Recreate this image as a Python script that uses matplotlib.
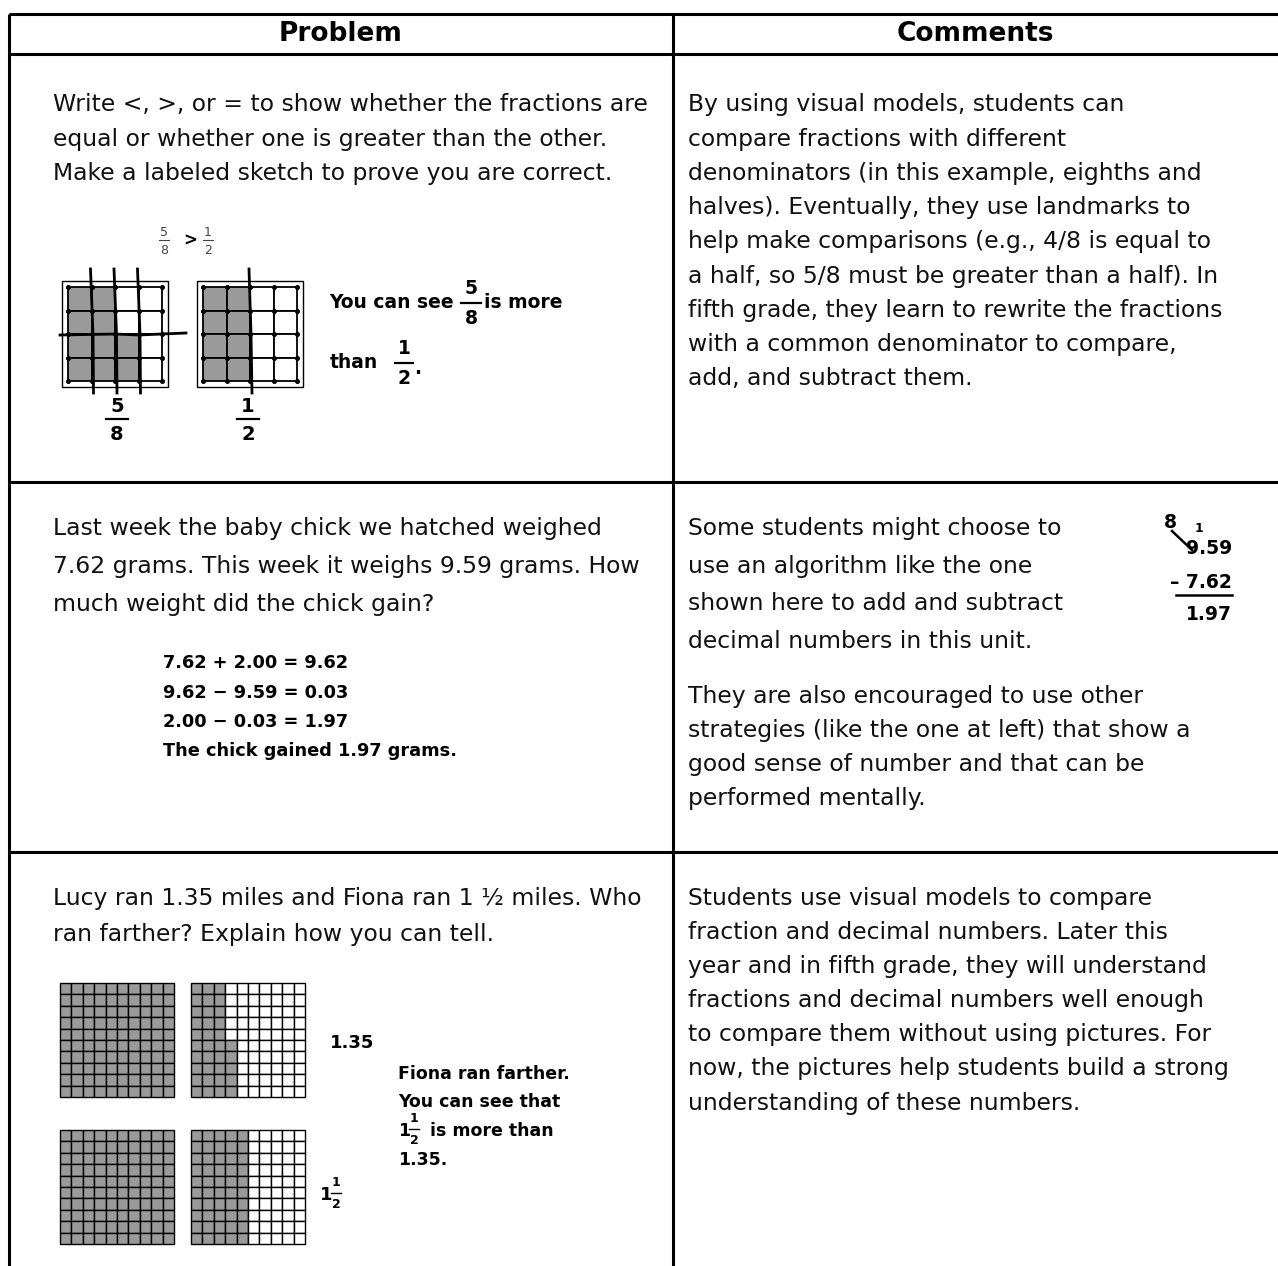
import matplotlib.pyplot as plt
from matplotlib.patches import Rectangle

# ---- table text ----
headers = ["Problem", "Comments"]

problem_1 = ["Write <, >, or = to show whether the fractions are",
             "equal or whether one is greater than the other.",
             "Make a labeled sketch to prove you are correct."]
comment_1 = ["By using visual models, students can",
             "compare fractions with different",
             "denominators (in this example, eighths and",
             "halves). Eventually, they use landmarks to",
             "help make comparisons (e.g., 4/8 is equal to",
             "a half, so 5/8 must be greater than a half). In",
             "fifth grade, they learn to rewrite the fractions",
             "with a common denominator to compare,",
             "add, and subtract them."]

problem_2 = ["Last week the baby chick we hatched weighed",
             "7.62 grams. This week it weighs 9.59 grams. How",
             "much weight did the chick gain?"]
work_2 = ["7.62 + 2.00 = 9.62",
          "9.62 \u2212 9.59 = 0.03",
          "2.00 \u2212 0.03 = 1.97",
          "The chick gained 1.97 grams."]
comment_2a = ["Some students might choose to",
              "use an algorithm like the one",
              "shown here to add and subtract",
              "decimal numbers in this unit."]
comment_2b = ["They are also encouraged to use other",
              "strategies (like the one at left) that show a",
              "good sense of number and that can be",
              "performed mentally."]

problem_3 = ["Lucy ran 1.35 miles and Fiona ran 1 \u00bd miles. Who",
             "ran farther? Explain how you can tell."]
answer_3 = ["Fiona ran farther.", "You can see that", "is more than", "1.35."]
comment_3 = ["Students use visual models to compare",
             "fraction and decimal numbers. Later this",
             "year and in fifth grade, they will understand",
             "fractions and decimal numbers well enough",
             "to compare them without using pictures. For",
             "now, the pictures help students build a strong",
             "understanding of these numbers."]

# ---- values shown in the sketches ----
eighths = (5, 8)        # left 4x4 model
half = (1, 2)           # right 4x4 model
lucy = 135              # hundredths
fiona = 150             # hundredths

W, H = 1278, 1266
fig = plt.figure(figsize=(W / 100, H / 100), dpi=100)
ax = fig.add_axes([0, 0, 1, 1])
ax.set_xlim(0, W)
ax.set_ylim(H, 0)
ax.axis("off")

BODY = dict(fontsize=16.9, family="DejaVu Sans", color="#111111", va="center")
HAND = dict(family="DejaVu Sans", weight="bold", color="black", va="center")

# table lines
x_left, x_mid = 9, 673
y_top, y_head, y_r1, y_r2 = 14, 54, 482, 852
lw = 2.2
for y in [y_top, y_head, y_r1, y_r2]:
    ax.plot([x_left, W], [y, y], color="black", lw=lw, solid_capstyle="butt")
for x in [x_left, x_mid]:
    ax.plot([x, x], [y_top, H], color="black", lw=lw, solid_capstyle="butt")

ax.text((x_left + x_mid) / 2, 34, headers[0], ha="center", va="center",
        fontsize=19, weight="bold", family="DejaVu Sans")
ax.text((x_mid + W) / 2, 34, headers[1], ha="center", va="center",
        fontsize=19, weight="bold", family="DejaVu Sans")


def paragraph(lines, x, y, dy=34.2, **kw):
    style = dict(BODY)
    style.update(kw)
    for i, s in enumerate(lines):
        ax.text(x, y + i * dy, s, ha="left", **style)


def frac(x, y, num, den, size=13, gap=13, bar=18, lw_bar=1.6, **kw):
    style = dict(HAND)
    style.update(kw)
    ax.text(x, y - gap, str(num), ha="center", fontsize=size, **style)
    ax.text(x, y + gap + 2, str(den), ha="center", fontsize=size, **style)
    ax.plot([x - bar / 2, x + bar / 2], [y, y], color=style["color"], lw=lw_bar)


def square_model(x0, y0, size, n, shaded, dots=False, pad=0):
    # shaded cells fill each column from the bottom, column by column
    if pad:
        ax.add_patch(Rectangle((x0 - pad, y0 - pad), size + 2 * pad, size + 2 * pad,
                               fill=False, ec="black", lw=1.0))
    c = size / n
    for col in range(n):
        for row in range(n):
            k = col * n + (n - 1 - row)
            fc = "#9a9a9a" if k < shaded else "white"
            ax.add_patch(Rectangle((x0 + col * c, y0 + row * c), c, c,
                                   fc=fc, ec="black", lw=1.0 if not dots else 1.3))
    if dots:
        for i in range(n + 1):
            for j in range(n + 1):
                ax.plot(x0 + i * c, y0 + j * c, "o", ms=2.6, color="black")
    return c


# ---- row 1 ----
paragraph(problem_1, 53, 105)
paragraph(comment_1, 688, 105)

# small "5/8 > 1/2"
frac(164, 240, eighths[0], eighths[1], size=9, gap=8, bar=10, lw_bar=0.8,
     weight="normal", color="#444444")
ax.text(183, 241, ">", fontsize=12, weight="bold", va="center", ha="left")
frac(208, 240, half[0], half[1], size=9, gap=8, bar=10, lw_bar=0.8,
     weight="normal", color="#444444")

g = 94
gx1, gx2, gy = 68, 203, 287
c1 = square_model(gx1, gy, g, 4, 16 * eighths[0] // eighths[1], dots=True, pad=6)
c2 = square_model(gx2, gy, g, 4, 16 * half[0] // half[1], dots=True, pad=6)

# hand-drawn cuts into eighths and halves
for k in [1, 2, 3]:
    xk = gx1 + k * c1
    ax.plot([xk - 1, xk + 1.5, xk + 2], [gy - 18, gy + g / 2, gy + g + 12],
            color="black", lw=2.0)
ax.plot([gx1 - 8, gx1 + 2 * c1, gx1 + 3 * c1, gx1 + g + 24],
        [gy + 2 * c1 + 1, gy + 2 * c1, gy + 2 * c1 + 1, gy + 2 * c1 - 1],
        color="black", lw=2.0)
xk = gx2 + 2 * c2
ax.plot([xk - 1, xk + 1, xk + 2], [gy - 18, gy + g / 2, gy + g + 12],
        color="black", lw=2.0)

frac(gx1 + g / 2 + 2, 419, eighths[0], eighths[1], size=14, gap=13, bar=22)
frac(gx2 + g / 2 - 2, 419, half[0], half[1], size=14, gap=13, bar=22)

ax.text(329, 303, "You can see", fontsize=13.5, ha="left", **HAND)
frac(471, 303, eighths[0], eighths[1], size=13.5, gap=14, bar=20)
ax.text(484, 303, "is more", fontsize=13.5, ha="left", **HAND)
ax.text(330, 363, "than", fontsize=13.5, ha="left", **HAND)
frac(404, 363, half[0], half[1], size=13.5, gap=14, bar=18)
ax.text(414, 368, ".", fontsize=13.5, ha="left", **HAND)

# ---- row 2 ----
paragraph(problem_2, 53, 528, dy=38)
for i, s in enumerate(work_2):
    ax.text(163, 663 + i * 29.5, s, fontsize=12.8, ha="left", **HAND)
paragraph(comment_2a, 688, 528, dy=38)
paragraph(comment_2b, 688, 696, dy=34)

ax.text(1232, 548, "9.59", fontsize=13.5, ha="right", **HAND)
ax.text(1232, 582, "\u2013 7.62", fontsize=13.5, ha="right", **HAND)
ax.plot([1176, 1232], [595, 595], color="black", lw=1.8)
ax.text(1232, 614, "1.97", fontsize=13.5, ha="right", **HAND)
ax.text(1164, 522, "8", fontsize=13.5, ha="left", **HAND)
ax.text(1195, 528, "1", fontsize=9, ha="left", **HAND)
ax.plot([1172, 1192], [531, 550], color="black", lw=1.8)

# ---- row 3 ----
paragraph(problem_3, 53, 898, dy=36)
paragraph(comment_3, 688, 898)

m = 114
mx1, mx2 = 60, 191
my1, my2 = 983, 1130
square_model(mx1, my1, m, 10, min(lucy, 100))
square_model(mx2, my1, m, 10, lucy - 100)
square_model(mx1, my2, m, 10, min(fiona, 100))
square_model(mx2, my2, m, 10, fiona - 100)

ax.text(330, 1043, f"{lucy / 100:.2f}", fontsize=13, ha="left", **HAND)
ax.text(320, 1195, "1", fontsize=13, ha="left", **HAND)
frac(336, 1193, 1, 2, size=9, gap=10, bar=10, lw_bar=1.0)

ax.text(398, 1074, answer_3[0], fontsize=12.5, ha="left", **HAND)
ax.text(398, 1102, answer_3[1], fontsize=12.5, ha="left", **HAND)
ax.text(398, 1131, "1", fontsize=12.5, ha="left", **HAND)
frac(414, 1129, 1, 2, size=9, gap=10, bar=10, lw_bar=1.0)
ax.text(430, 1131, answer_3[2], fontsize=12.5, ha="left", **HAND)
ax.text(398, 1160, answer_3[3], fontsize=12.5, ha="left", **HAND)

fig.savefig("out.png", dpi=100, facecolor="white")
